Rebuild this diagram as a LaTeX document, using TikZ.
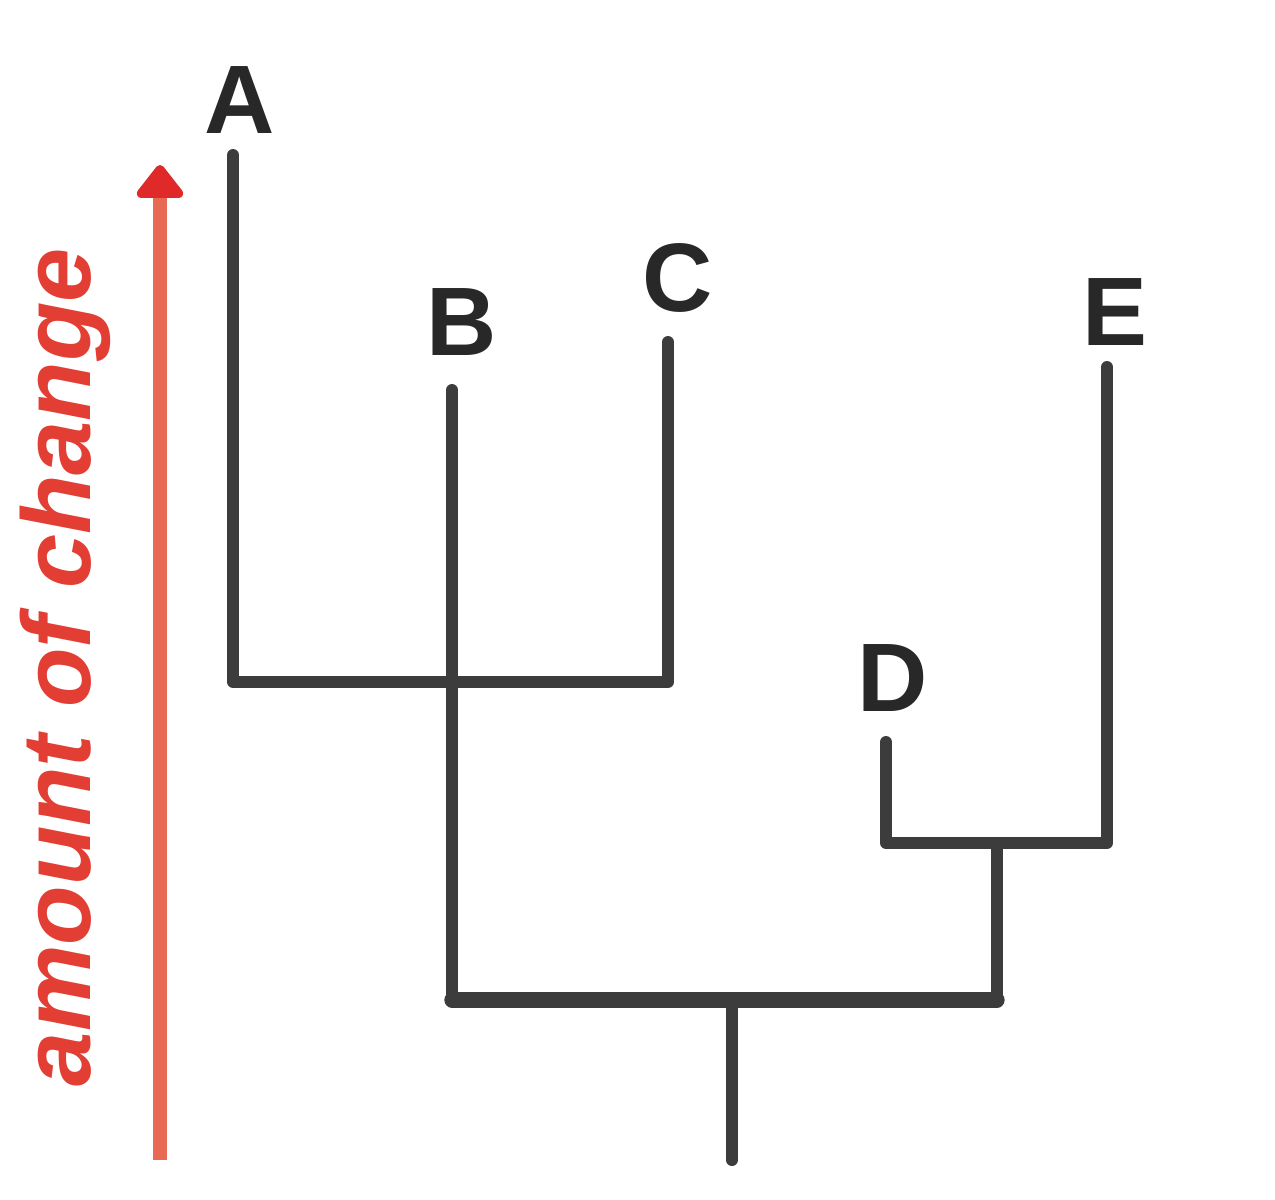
\documentclass[tikz,border=0pt]{standalone}
\usepackage{fontspec}
\setmainfont{Liberation Sans}
\usetikzlibrary{arrows.meta}

\begin{document}
\begin{tikzpicture}[x=0.75pt,y=0.75pt,yscale=-1,xscale=1,
  branch/.style={draw={rgb, 255:red, 60; green, 60; blue, 60 }, line width=9pt, line cap=round, line join=round},
  leaf/.style={inner sep=0.75pt, text={rgb, 255:red, 40; green, 40; blue, 40 }, font=\fontsize{73}{80}\selectfont\bfseries},
  change/.style={draw={rgb, 255:red, 232; green, 106; blue, 85 }, line width=10pt}]
\useasboundingbox (0,0) rectangle (1275,1200);

%Branch points
\coordinate (tipA) at (233,155);
\coordinate (tipB) at (452,390);
\coordinate (tipC) at (668,342);
\coordinate (tipD) at (886,742);
\coordinate (tipE) at (1107,367);
\coordinate (nAC) at (450,682);
\coordinate (nDE) at (997,843);
\coordinate (root) at (732,1000);
\coordinate (foot) at (732,1160);

%Straight Lines 
\draw [branch] (tipA) -- (tipA |- nAC) -- (tipC |- nAC) -- (tipC) ;
%Straight Lines 
\draw [branch] (tipB) -- (tipB |- root) ;
\draw [branch, line width=11.5pt] (tipB |- root) -- (nDE |- root) ;
\draw [branch] (nDE |- root) -- (nDE) ;
%Straight Lines 
\draw [branch] (tipD) -- (tipD |- nDE) -- (tipE |- nDE) -- (tipE) ;
%Straight Lines 
\draw [branch] (root) -- (foot) ;

%Arrow
\coordinate (arrowfoot) at (160,1160);
\coordinate (arrowtip) at (160,165);
\draw [change, -{Triangle[length=27pt, width=40pt, round, fill={rgb, 255:red, 224; green, 42; blue, 42 }, color={rgb, 255:red, 224; green, 42; blue, 42 }]}] (arrowfoot) -- (arrowtip) ;

% Text Node
\node [leaf] (A) at (240,100) {A};
% Text Node
\node [leaf] (B) at (462,322) {B};
% Text Node
\node [leaf] (C) at (678,278) {C};
% Text Node
\node [leaf] (D) at (893,678) {D};
% Text Node
\node [leaf] (E) at (1115,312) {E};
% Text Node
\node [inner sep=0pt, rotate=90, anchor=base, text={rgb, 255:red, 226; green, 62; blue, 52 }, font=\fontsize{73}{80}\selectfont\bfseries\itshape] (amount) at (90,667) {amount of change};

\end{tikzpicture}
\end{document}
